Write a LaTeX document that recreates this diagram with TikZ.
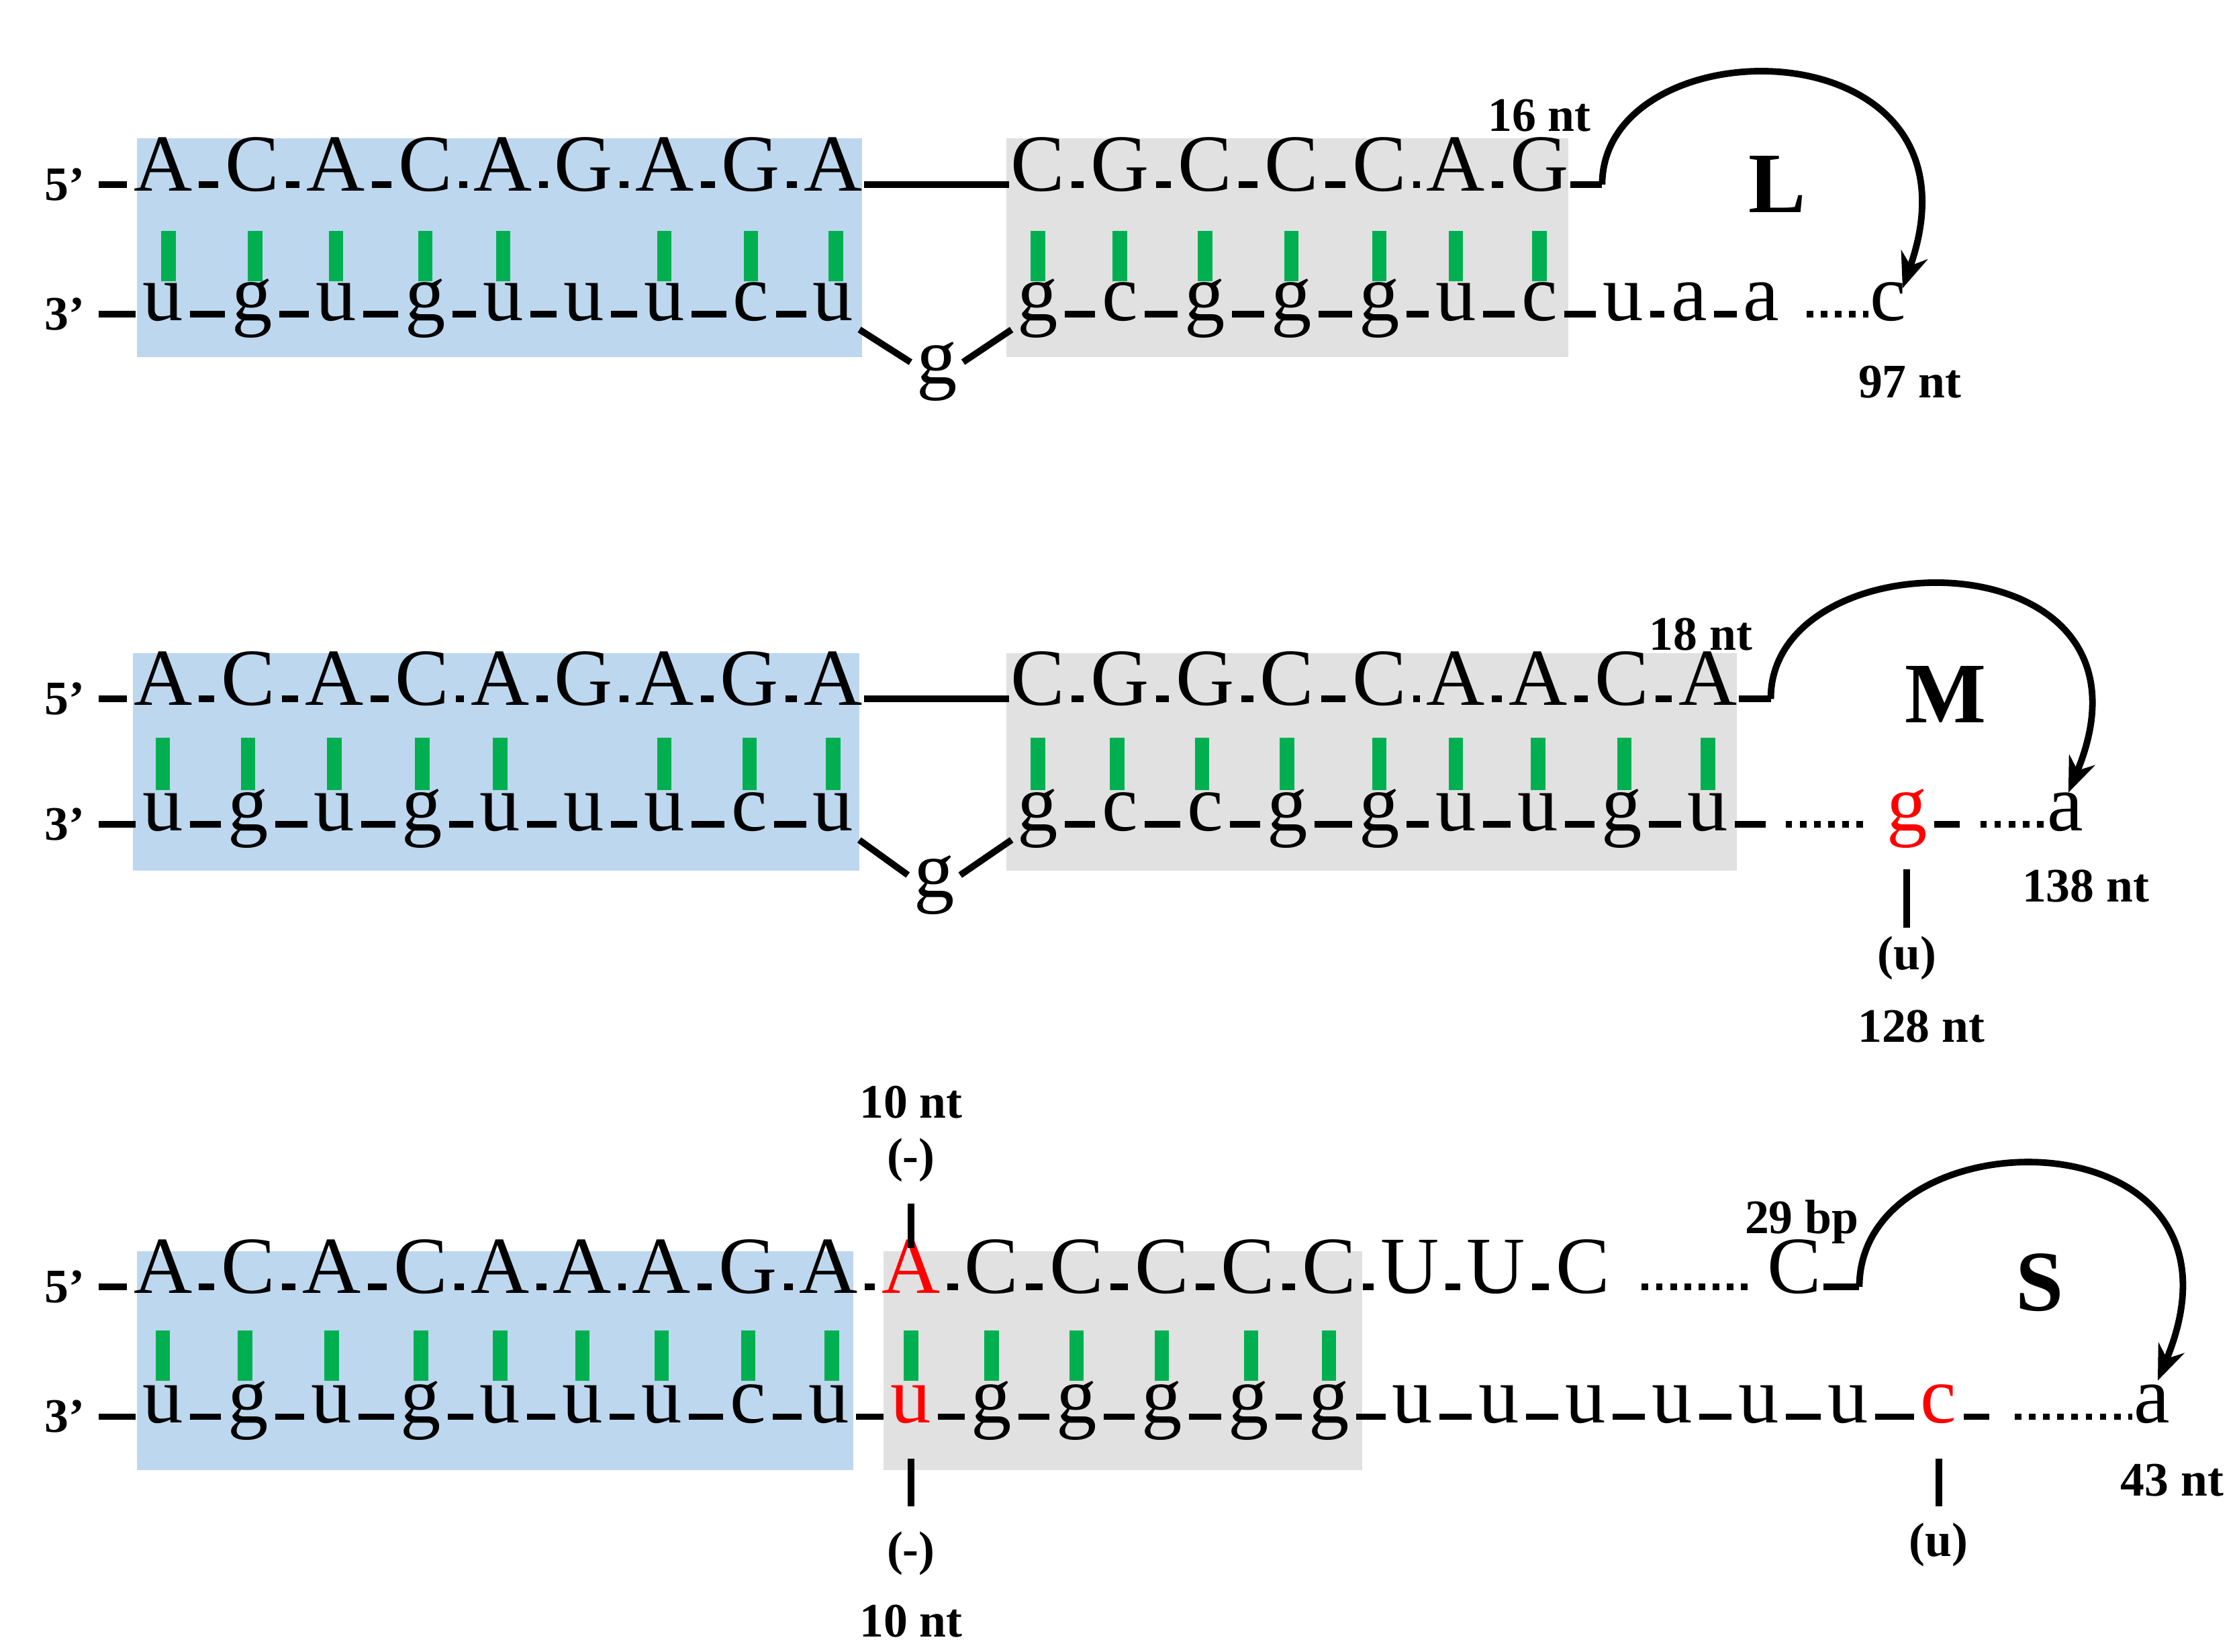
\documentclass[tikz,border=0pt]{standalone}
\usepackage{fontspec}
\setmainfont{Liberation Serif}
\usetikzlibrary{arrows.meta}
\definecolor{boxblue}{RGB}{189,215,238}
\definecolor{boxgray}{RGB}{225,225,225}
\definecolor{pairgreen}{RGB}{0,176,80}
\tikzset{
  base/.style={inner sep=0.5pt, text height=0.68em, text depth=0.18em, font=\fontsize{32}{36}\selectfont},
  red base/.style={base, text=red},
  bond/.style={line width=2.6pt, shorten <=2pt, shorten >=2pt},
  dots/.style={line width=2.6pt, dash pattern=on 2.6pt off 3pt},
  pair/.style={pairgreen, line width=0.2cm},
  lab/.style={font=\fontsize{19}{22}\selectfont\bfseries},
  big/.style={font=\fontsize{34}{38}\selectfont\bfseries},
  turn/.style={line width=2.6pt, -{Stealth[length=14pt,width=11pt]}}
}
\begin{document}
\begin{tikzpicture}[x=0.02cm,y=-0.02cm]
\useasboundingbox (0,0) rectangle (1552,1146);

% ---------- L ----------
\fill [boxblue] (95,96) rectangle (598,248);
\fill [boxgray] (698,96) rectangle (1088,248);
\foreach \x in {117,177,233,295,349,461,521,580} \draw [pair] (\x,160)--(\x,195);
\foreach \x in {720,777,836,896,957,1010,1068} \draw [pair] (\x,160)--(\x,195);
\node [lab] (L5) at (45,128) {5’};
\node [lab] (L3) at (45,218) {3’};
\foreach \x/\t [count=\i] in {113/A,175/C,233/A,295/C,349/A,405/G,461/A,521/G,578/A,
  720/C,777/G,836/C,896/C,957/C,1010/A,1068/G}
  \node [base] (Lt\i) at (\x,128) {\t};
\foreach \x/\t [count=\i] in {113/u,175/g,233/u,295/g,349/u,405/u,461/u,521/c,578/u,
  720/g,777/c,836/g,896/g,957/g,1010/u,1068/c,1126/u,1172/a,1222/a}
  \node [base] (Lb\i) at (\x,218) {\t};
\node [base] (Lc) at (1310,218) {c};
\node [base] (Lg) at (650,262) {g};
\draw [bond] (L5.east) -- (Lt1);
\draw [bond] (L3.east) -- (Lb1);
\foreach \i [remember=\i as \j (initially 1)] in {2,...,9} \draw [bond] (Lt\j) -- (Lt\i);
\foreach \i [remember=\i as \j (initially 10)] in {11,...,16} \draw [bond] (Lt\j) -- (Lt\i);
\foreach \i [remember=\i as \j (initially 1)] in {2,...,9} \draw [bond] (Lb\j) -- (Lb\i);
\foreach \i [remember=\i as \j (initially 10)] in {11,...,19} \draw [bond] (Lb\j) -- (Lb\i);
\draw [line width=2.6pt] (Lt9.east) -- (Lt10.west);
\draw [bond] (Lb9.south east) -- (Lg.north west);
\draw [bond] (Lg.north east) -- (Lb10.south west);
\draw [dots] ([xshift=10pt]Lb19.east) -- (Lc.west);
\draw [line width=2.6pt] (Lt16.east) -- ++(22,0) coordinate (la);
\draw [turn] (la) .. controls (1112,15) and (1385,15) .. (1320,200);
\node [lab] at (1068,80) {16 nt};
\node [big] at (1233,128) {L};
\node [lab] at (1325,265) {97 nt};

% ---------- M ----------
\fill [boxblue] (92,453) rectangle (596,604);
\fill [boxgray] (698,453) rectangle (1205,604);
\foreach \x in {113,172,232,293,347,461,520,578} \draw [pair] (\x,512)--(\x,548);
\foreach \x in {720,775,834,893,957,1010,1067,1127,1185} \draw [pair] (\x,512)--(\x,548);
\node [lab] (M5) at (45,485) {5’};
\node [lab] (M3) at (45,572) {3’};
\foreach \x/\t [count=\i] in {113/A,172/C,232/A,293/C,347/A,405/G,461/A,520/G,578/A,
  720/C,777/G,836/G,893/C,957/C,1010/A,1067/A,1125/C,1185/A}
  \node [base] (Mt\i) at (\x,485) {\t};
\foreach \x/\t [count=\i] in {113/u,172/g,232/u,293/g,347/u,405/u,461/u,520/c,578/u,
  720/g,777/c,836/c,893/g,957/g,1010/u,1067/u,1125/g,1185/u}
  \node [base] (Mb\i) at (\x,572) {\t};
\node [red base] (Mr) at (1323,572) {g};
\node [base] (Ma) at (1433,572) {a};
\node [base] (Mg) at (648,618) {g};
\draw [bond] (M5.east) -- (Mt1);
\draw [bond] (M3.east) -- (Mb1);
\foreach \i [remember=\i as \j (initially 1)] in {2,...,9} \draw [bond] (Mt\j) -- (Mt\i);
\foreach \i [remember=\i as \j (initially 10)] in {11,...,18} \draw [bond] (Mt\j) -- (Mt\i);
\foreach \i [remember=\i as \j (initially 1)] in {2,...,9} \draw [bond] (Mb\j) -- (Mb\i);
\foreach \i [remember=\i as \j (initially 10)] in {11,...,18} \draw [bond] (Mb\j) -- (Mb\i);
\draw [line width=2.6pt] (Mt9.east) -- (Mt10.west);
\draw [bond] (Mb9.south east) -- (Mg.north west);
\draw [bond] (Mg.north east) -- (Mb10.south west);
\draw [bond] (Mb18.east) -- ++(28,0) coordinate (m1);
\draw [dots] ([xshift=6pt]m1) -- ([xshift=-6pt]Mr.west);
\draw [bond] (Mr.east) -- ++(25,0) coordinate (m2);
\draw [dots] ([xshift=6pt]m2) -- (Ma.west);
\draw [line width=2.6pt] (Mt18.east) -- ++(22,0) coordinate (ma);
\draw [turn] (ma) .. controls (1228,370) and (1510,370) .. (1435,550);
\node [lab] (Mu) at (1323,665) {(u)};
\draw [line width=2.6pt] (1323,603) -- (Mu.north);
\node [lab] at (1180,440) {18 nt};
\node [big] at (1350,482) {M};
\node [lab] at (1447,615) {138 nt};
\node [lab] at (1333,712) {128 nt};

% ---------- S ----------
\fill [boxblue] (95,868) rectangle (592,1020);
\fill [boxgray] (613,868) rectangle (945,1020);
\foreach \x in {113,170,230,292,347,404,459,519,577} \draw [pair] (\x,923)--(\x,958);
\foreach \x in {632,688,747,806,868,922} \draw [pair] (\x,923)--(\x,958);
\node [lab] (S5) at (45,893) {5’};
\node [lab] (S3) at (45,983) {3’};
\foreach \x/\t [count=\i] in {113/A,172/C,230/A,292/C,347/A,404/A,459/A,519/G,575/A,
  688/C,747/C,806/C,866/C,922/C,978/U,1038/U,1098/C}
  \node [base] (St\i) at (\x,893) {\t};
\node [red base] (SA) at (632,893) {A};
\node [base] (SC) at (1245,893) {C};
\foreach \x/\t [count=\i] in {113/u,172/g,230/u,292/g,347/u,404/u,459/u,519/c,575/u,
  688/g,747/g,806/g,866/g,922/g,980/u,1040/u,1100/u,1160/u,1220/u,1282/u}
  \node [base] (Sb\i) at (\x,983) {\t};
\node [red base] (Su) at (632,983) {u};
\node [red base] (Sc) at (1345,983) {c};
\node [base] (Sa) at (1493,983) {a};
\draw [bond] (S5.east) -- (St1);
\draw [bond] (S3.east) -- (Sb1);
\foreach \i [remember=\i as \j (initially 1)] in {2,...,9} \draw [bond] (St\j) -- (St\i);
\foreach \i [remember=\i as \j (initially 10)] in {11,...,17} \draw [bond] (St\j) -- (St\i);
\foreach \i [remember=\i as \j (initially 1)] in {2,...,9} \draw [bond] (Sb\j) -- (Sb\i);
\foreach \i [remember=\i as \j (initially 10)] in {11,...,20} \draw [bond] (Sb\j) -- (Sb\i);
\draw [bond] (St9) -- (SA);
\draw [bond] (SA) -- (St10);
\draw [bond] (Sb9) -- (Su);
\draw [bond] (Su) -- (Sb10);
\draw [bond] (Sb20) -- (Sc);
\draw [dots] ([xshift=12pt]St17.east) -- ([xshift=-6pt]SC.west);
\draw [bond] (Sc.east) -- ++(25,0) coordinate (s2);
\draw [dots] ([xshift=8pt]s2) -- (Sa.west);
\draw [line width=2.6pt] (SC.east) -- ++(25,0) coordinate (sa);
\draw [turn] (sa) .. controls (1290,770) and (1575,770) .. (1497,958);
\node [lab] (Sm1) at (632,805) {(-)};
\node [lab] at (632,765) {10 nt};
\draw [line width=2.6pt] (632,835) -- (632,866);
\node [lab] (Sm2) at (632,1078) {(-)};
\node [lab] at (632,1125) {10 nt};
\draw [line width=2.6pt] (632,1012) -- (632,1045);
\node [lab] (Su2) at (1345,1072) {(u)};
\draw [line width=2.6pt] (1345,1012) -- (1345,1045);
\node [lab] at (1250,848) {29 bp};
\node [big] at (1415,890) {S};
\node [lab] at (1507,1027) {43 nt};
\end{tikzpicture}
\end{document}
